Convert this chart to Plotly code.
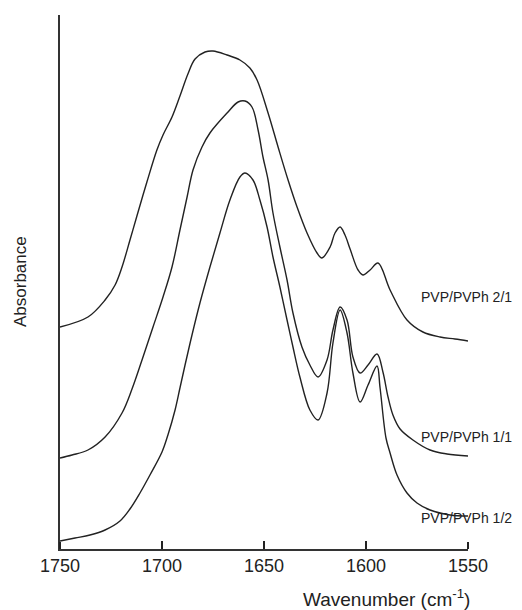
import plotly.graph_objects as go

# Curve PVP/PVPh 2/1
wn_a = [1750, 1736.3, 1727.9, 1723.0, 1719.6, 1715.7, 1712.3, 1707.4, 1702.5, 1699.5,
        1695.1, 1691.2, 1687.3, 1683.8, 1678.9, 1675.0, 1668.1, 1661.8, 1656.9, 1653.4,
        1648.0, 1643.1, 1638.2, 1633.8, 1628.9, 1624.0, 1621.6, 1617.6, 1615.2, 1612.7,
        1610.3, 1607.8, 1603.9, 1601.5, 1598.0, 1594.1, 1588.2, 1579.9, 1572.1, 1563.7,
        1556.4, 1550]
ab_a = [2.22, 2.32, 2.49, 2.64, 2.82, 3.09, 3.33, 3.67, 3.99, 4.14,
        4.32, 4.53, 4.75, 4.90, 4.97, 4.98, 4.94, 4.89, 4.81, 4.69,
        4.36, 4.02, 3.69, 3.42, 3.16, 2.96, 2.91, 3.02, 3.16, 3.22,
        3.14, 3.00, 2.79, 2.74, 2.79, 2.86, 2.59, 2.29, 2.17, 2.12,
        2.10, 2.08]

# Curve PVP/PVPh 1/1
wn_b = [1750, 1744.1, 1736.3, 1727.9, 1719.6, 1714.7, 1709.8, 1704.4, 1699.5, 1695.1,
        1691.2, 1687.7, 1684.8, 1680.4, 1676.5, 1668.1, 1662.7, 1659.3, 1655.9, 1652.9,
        1650.5, 1648.0, 1645.6, 1642.2, 1638.7, 1635.8, 1631.4, 1627.5, 1623.5, 1619.1,
        1616.2, 1612.7, 1609.3, 1606.4, 1602.9, 1599.0, 1594.6, 1591.7, 1589.2, 1586.8,
        1583.3, 1577.0, 1568.6, 1560.3, 1550]
ab_b = [0.91, 0.94, 0.99, 1.12, 1.36, 1.60, 1.89, 2.22, 2.52, 2.82,
        3.19, 3.52, 3.79, 4.02, 4.16, 4.36, 4.47, 4.48, 4.42, 4.19,
        3.92, 3.69, 3.36, 3.02, 2.69, 2.36, 2.02, 1.84, 1.72, 1.89,
        2.19, 2.42, 2.29, 1.92, 1.76, 1.84, 1.95, 1.77, 1.52, 1.34,
        1.20, 1.09, 0.99, 0.95, 0.93]

# Curve PVP/PVPh 1/2
wn_c = [1750, 1742.6, 1735.3, 1727.9, 1720.6, 1715.7, 1710.8, 1705.9, 1700.0, 1697.1,
        1693.6, 1691.2, 1688.7, 1685.3, 1681.4, 1676.5, 1671.6, 1666.7, 1661.8, 1659.3,
        1655.4, 1652.0, 1648.5, 1645.6, 1642.2, 1638.7, 1635.8, 1632.4, 1627.5, 1623.5,
        1619.1, 1616.2, 1612.7, 1609.3, 1606.4, 1602.9, 1599.0, 1594.6, 1593.1, 1590.2,
        1588.2, 1584.8, 1579.9, 1575.0, 1568.6, 1558.8, 1550]
ab_c = [0.08, 0.11, 0.14, 0.19, 0.28, 0.40, 0.56, 0.74, 0.97, 1.14,
        1.39, 1.61, 1.84, 2.14, 2.46, 2.82, 3.16, 3.49, 3.72, 3.76,
        3.69, 3.49, 3.22, 2.92, 2.62, 2.29, 2.02, 1.72, 1.39, 1.29,
        1.56, 2.06, 2.39, 2.16, 1.76, 1.47, 1.64, 1.83, 1.61, 1.11,
        0.96, 0.74, 0.56, 0.46, 0.39, 0.34, 0.33]

labels = ["PVP/PVPh 2/1", "PVP/PVPh 1/1", "PVP/PVPh 1/2"]
label_y = [2.52, 1.12, 0.31]
label_x = 1574.0
x_ticks = [1750, 1700, 1650, 1600, 1550]
x_range = [1750, 1550]

FONT = "Liberation Sans, Arial, sans-serif"
LINE = "#222222"

fig = go.Figure()
for wn, ab in [(wn_a, ab_a), (wn_b, ab_b), (wn_c, ab_c)]:
    fig.add_trace(go.Scatter(x=wn, y=ab, mode="lines",
                             line=dict(color=LINE, width=1.4, shape="spline", smoothing=1.0),
                             showlegend=False, hoverinfo="skip"))
# empty trace so the tick-only overlay axis is drawn
fig.add_trace(go.Scatter(x=[], y=[], xaxis="x2", yaxis="y", showlegend=False,
                         hoverinfo="skip"))

for t, yv in zip(labels, label_y):
    fig.add_annotation(x=label_x, y=yv, xref="x", yref="y", text=t, showarrow=False,
                       xanchor="left", yanchor="middle",
                       font=dict(family=FONT, size=14, color="#222"))

fig.add_annotation(x=1, y=0, xref="paper", yref="paper", text="Wavenumber (cm<sup>-1</sup>)",
                   showarrow=False, xanchor="right", yanchor="top", yshift=-35, xshift=4,
                   font=dict(family=FONT, size=19, color="#222"))
fig.add_annotation(x=0, y=0.5, xref="paper", yref="paper", text="Absorbance",
                   showarrow=False, textangle=-90, xanchor="center", yanchor="middle",
                   xshift=-40, font=dict(family=FONT, size=17, color="#222"))

fig.update_layout(
    width=522, height=610,
    margin=dict(l=60, r=54, t=15, b=61),
    paper_bgcolor="white", plot_bgcolor="white",
    xaxis=dict(range=x_range, tickmode="array", tickvals=x_ticks, ticks="inside",
               ticklen=8, tickwidth=1.6, tickcolor="#222", showline=True, linecolor="#333",
               linewidth=1.5, showgrid=False, zeroline=False,
               tickfont=dict(family=FONT, size=18, color="#222")),
    xaxis2=dict(range=x_range, overlaying="x", side="top", anchor="free", position=0,
                tickmode="array", tickvals=x_ticks, ticks="outside", ticklen=7,
                tickwidth=1.5, tickcolor="#222", showticklabels=False, showline=False,
                showgrid=False, zeroline=False),
    yaxis=dict(range=[0, 5.34], showticklabels=False, ticks="", showline=True,
               linecolor="#333", linewidth=1.5, showgrid=False, zeroline=False),
)

fig.write_html("out.html", config={"displayModeBar": False},
               post_script="document.body.style.margin='0';document.body.style.overflow='hidden';")
